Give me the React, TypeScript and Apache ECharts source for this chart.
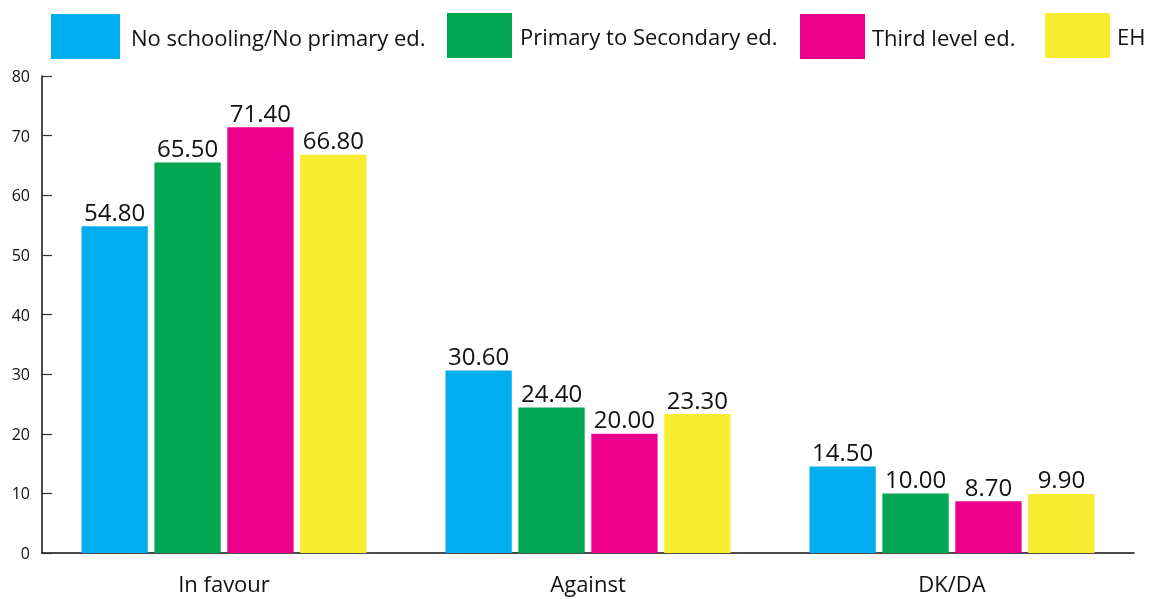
import React, { useEffect, useRef } from "react";
import * as echarts from "echarts";

const categories = ["In favour", "Against", "DK/DA"];
const seriesNames = [
  "No schooling/No primary ed.",
  "Primary to Secondary ed.",
  "Third level ed.",
  "EH",
];
const noSchooling = [54.8, 30.6, 14.5];
const primarySecondary = [65.5, 24.4, 10.0];
const thirdLevel = [71.4, 20.0, 8.7];
const eh = [66.8, 23.3, 9.9];
const colors = ["#00AEEF", "#00A651", "#EC008C", "#F7EC31"];
const yTicks = [0, 10, 20, 30, 40, 50, 60, 70, 80];

const FONT = "Open Sans";

export default function App() {
  const ref = useRef<HTMLDivElement>(null);

  useEffect(() => {
    if (!ref.current) return;
    const chart = echarts.init(ref.current, undefined, { renderer: "svg" });
    const values = [noSchooling, primarySecondary, thirdLevel, eh];
    const legendPos = [
      { left: 51, top: 14, w: 69, pad: [2, 0, 0, 6] },
      { left: 447, top: 13, w: 65, pad: [2, 0, 0, 3] },
      { left: 800, top: 14, w: 65, pad: [2, 0, 0, 2] },
      { left: 1045, top: 13, w: 65, pad: [10, 0, 0, 2] },
    ];

    chart.setOption({
      animation: false,
      textStyle: { fontFamily: FONT },
      legend: seriesNames.map((name, i) => ({
        data: [name],
        left: legendPos[i].left,
        top: legendPos[i].top,
        padding: 0,
        icon: "rect",
        itemWidth: legendPos[i].w,
        itemHeight: 45,
        selectedMode: false,
        textStyle: {
          fontFamily: FONT,
          fontSize: 22,
          color: "#111",
          padding: legendPos[i].pad,
        },
      })),
      grid: { left: 42, right: 17, top: 76, bottom: 46, containLabel: false },
      xAxis: {
        type: "category",
        data: categories,
        axisLine: { lineStyle: { color: "#111", width: 1.5 } },
        axisTick: {
          inside: true,
          length: 12,
          lineStyle: { color: "#333", width: 1.2 },
        },
        axisLabel: {
          fontFamily: FONT,
          fontSize: 22,
          color: "#111",
          margin: 19,
        },
      },
      yAxis: {
        type: "value",
        min: yTicks[0],
        max: yTicks[yTicks.length - 1],
        interval: 10,
        splitLine: { show: false },
        axisLine: { show: true, lineStyle: { color: "#111", width: 1.5 } },
        axisTick: {
          show: true,
          inside: true,
          length: 10,
          lineStyle: { color: "#333", width: 1.2 },
        },
        axisLabel: {
          fontFamily: FONT,
          fontSize: 16,
          color: "#111",
          margin: 12,
        },
      },
      series: seriesNames.map((name, i) => ({
        name,
        type: "bar",
        data: values[i],
        barGap: "10%",
        barCategoryGap: "21.7%",
        itemStyle: { color: colors[i] },
        label: {
          show: true,
          position: "top",
          distance: 3,
          fontFamily: FONT,
          fontSize: 24,
          color: "#111",
          formatter: (p: any) => Number(p.value).toFixed(2),
        },
      })),
    });

    return () => chart.dispose();
  }, []);

  return (
    <div
      ref={ref}
      style={{ position: "fixed", left: 0, top: 0, width: 1151, height: 599 }}
    />
  );
}
